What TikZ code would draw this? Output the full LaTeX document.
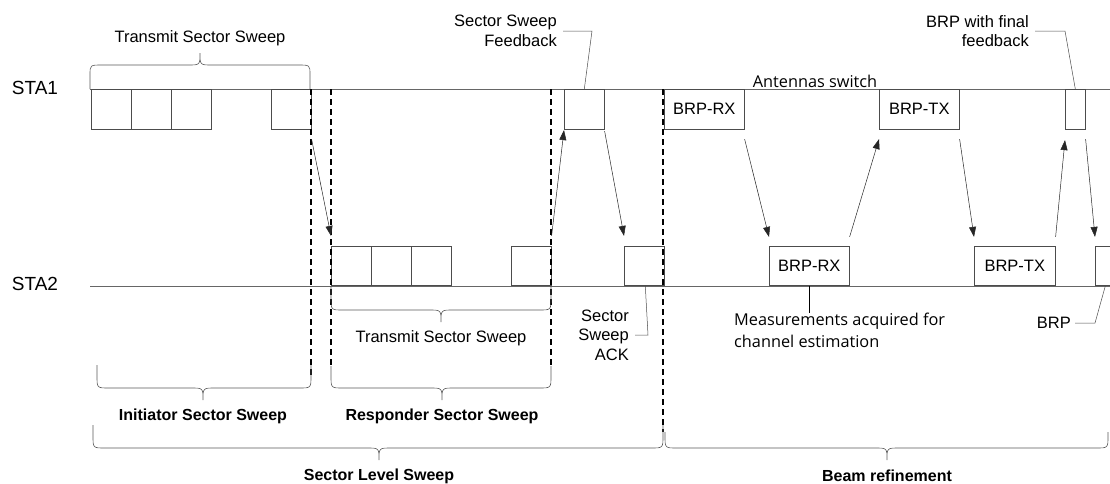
\documentclass[tikz,border=0pt]{standalone}
\usepackage{fontspec}
\setmainfont{Liberation Sans}
\newfontfamily\segoe{Open Sans}
\usetikzlibrary{arrows.meta}
\newcommand\mybrc[7]{%
  \draw[brc] (#1,#4) -- (#1,#7) .. controls (#1,#5) .. ({#1+12},#5) -- ({#3-12},#5)
    .. controls (#3,#5) .. (#3,#6) .. controls (#3,#5) .. ({#3+12},#5) -- ({#2-12},#5)
    .. controls (#2,#5) .. (#2,#7) -- (#2,#4);}
\begin{document}
\begin{tikzpicture}[x=1pt,y=-1pt,
  box/.style={draw=black!70, line width=0.6pt, minimum height=39.5pt, inner sep=0pt,
    font=\fontsize{16.5}{19}\selectfont},
  sq/.style={box, minimum width=40pt},
  tl/.style={draw=black!60, line width=0.7pt},
  dsh/.style={draw=black, line width=1.6pt, dash pattern=on 6pt off 4pt},
  brc/.style={draw=black!65, line width=0.6pt},
  arr/.style={draw=black!85, line width=0.5pt, -{Triangle[length=10pt,width=7pt]}},
  ldr/.style={draw=black!70, line width=0.5pt},
  txt/.style={inner sep=0pt, font=\fontsize{16.5}{19.5}\selectfont},
  bld/.style={inner sep=0pt, font=\fontsize{16}{19}\selectfont\bfseries},
  seg/.style={inner sep=0pt, font=\segoe\fontsize{16.3}{22}\selectfont}
]
\useasboundingbox (0,0) rectangle (1110,483);
\clip (0,0) rectangle (1110,483);

% timelines
\coordinate (s1a) at (90,89);
\coordinate (s1b) at (1110,89);
\coordinate (s2a) at (90,286);
\coordinate (s2b) at (1110,286);
\draw[tl] (s1a) -- (s1b);
\draw[tl] (s2a) -- (s2b);

\node[inner sep=0pt, font=\fontsize{19}{22}\selectfont] (sta1) at (35,88) {STA1};
\node[inner sep=0pt, font=\fontsize{19}{22}\selectfont] (sta2) at (35,284) {STA2};

% STA1 boxes
\node[sq, anchor=north west] (a1) at (91,89) {};
\node[sq, anchor=north west] (a2) at (131,89) {};
\node[sq, anchor=north west] (a3) at (171,89) {};
\node[sq, anchor=north west] (a4) at (271,89) {};
\node[sq, anchor=north west] (fb) at (564,89) {};
\node[box, minimum width=80pt, anchor=north west] (brx1) at (664,89) {BRP-RX};
\node[box, minimum width=80pt, anchor=north west] (btx1) at (879,89) {BRP-TX};
\node[box, minimum width=20pt, anchor=north west] (fin) at (1065,89) {};

% STA2 boxes
\node[sq, anchor=south west] (b1) at (331,286) {};
\node[sq, anchor=south west] (b2) at (371,286) {};
\node[sq, anchor=south west] (b3) at (411,286) {};
\node[sq, anchor=south west] (b4) at (511,286) {};
\node[sq, anchor=south west] (ack) at (624,286) {};
\node[box, minimum width=80pt, anchor=south west] (brx2) at (769,286) {BRP-RX};
\node[box, minimum width=81pt, anchor=south west] (btx2) at (974,286) {BRP-TX};
\node[box, minimum width=20pt, anchor=south west] (last) at (1095,286) {};

% dashed separators
\draw[dsh] (311,89) -- (311,375);
\draw[dsh] (331,89) -- (331,366);
\draw[dsh] (551,89) -- (551,366);
\draw[dsh] (663,89) -- (663,432);

% braces
\mybrc{90}{310}{200}{89}{65}{53}{75}
\mybrc{331}{551}{441}{286}{310}{322}{298}
\mybrc{97}{311}{203}{365}{388}{400}{376}
\mybrc{331}{551}{442}{366}{388}{400}{376}
\mybrc{93}{663}{379}{425}{448}{460}{436}
\mybrc{665}{1108}{887}{432}{448}{460}{436}

% arrows
\draw[arr] ([yshift=-10pt]a4.south east) -- ([yshift=10pt]b1.north west);
\draw[arr] ([yshift=10pt]b4.north east) -- ([yshift=-1pt]fb.south west);
\draw[arr] ([yshift=-2pt]fb.south east) -- ([yshift=10pt]ack.north west);
\draw[arr] ([yshift=-10pt]brx1.south east) -- ([yshift=9pt]brx2.north west);
\draw[arr] ([yshift=9pt]brx2.north east) -- ([yshift=-10pt]btx1.south west);
\draw[arr] ([yshift=-10pt]btx1.south east) -- ([yshift=9pt]btx2.north west);
\draw[arr] ([yshift=9pt]btx2.north east) -- ([yshift=-11pt]fin.south west);
\draw[arr] ([yshift=-10pt]fin.south east) -- ([yshift=9pt]last.north west);

% labels
\node[txt] (tss1) at (200,38) {Transmit Sector Sweep};
\node[txt] (tss2) at (441,338) {Transmit Sector Sweep};
\node[txt, align=right, anchor=east] (fbl) at (557,31) {Sector Sweep\\Feedback};
\node[txt, align=right, anchor=east] (finl) at (1029,31) {BRP with final\\feedback};
\node[txt, align=right, anchor=east] (ackl) at (629,335) {Sector\\Sweep\\ACK};
\node[txt, anchor=east] (brpl) at (1071,323) {BRP};
\node[seg, align=left, anchor=north west] (meas) at (734,313) {Measurements acquired for\\channel estimation};
\node[seg] (ant) at (815,81) {Antennas switch};
\node[bld] (isw) at (203,416) {Initiator Sector Sweep};
\node[bld] (rsw) at (442,416) {Responder Sector Sweep};
\node[bld] (sls) at (379,476) {Sector Level Sweep};
\node[bld] (bref) at (887,476) {Beam refinement};

% leaders
\draw[ldr] ([xshift=6pt]fbl.east) -- ++(29,0) -- (fb.north);
\draw[ldr] ([xshift=6pt]finl.east) -- ++(30,0) -- (fin.north);
\draw[ldr] ([xshift=6pt]ackl.east) -- ++(13,0) -- ([xshift=1pt]ack.south);
\draw[ldr] ([xshift=4pt]brpl.east) -- ++(20,0) -- (last.south);
\draw[draw=black, line width=0.8pt] (brx2.south) -- (brx2.south |- meas.north);
\end{tikzpicture}
\end{document}
